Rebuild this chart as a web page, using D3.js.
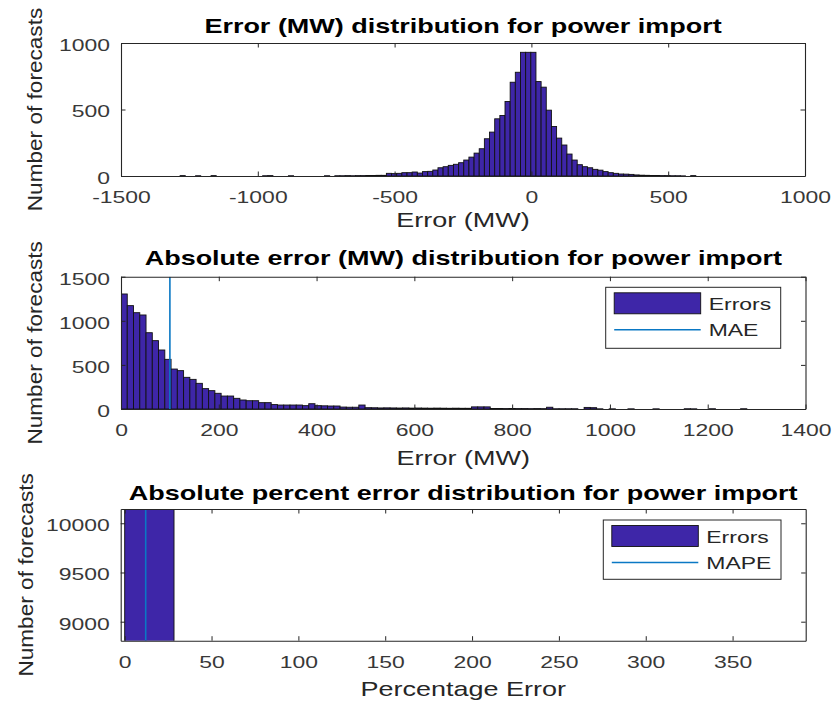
<!DOCTYPE html>
<html>
<head>
<meta charset="utf-8">
<script src="https://cdn.jsdelivr.net/npm/d3@7"></script>
<style>
  body { margin: 0; background: #fff; }
  svg { display: block; }
  text { font-family: "Liberation Sans", Arial, Helvetica, sans-serif; }
</style>
</head>
<body>
<svg id="chart" width="834" height="706"></svg>
<script>
// ---- Signed forecast error (MW), 100 equal-width bins ----
const errorBinStart = -1284;
const errorBinWidth = 18.85;
const errorCounts = [
  3, 0, 0, 2, 0, 0, 3, 0, 0, 0,
  0, 0, 0, 0, 0, 0, 2, 3, 0, 0,
  0, 2, 0, 0, 0, 0, 0, 0, 2, 0,
  2, 2, 3, 2, 3, 3, 4, 4, 5, 5,
  20, 18, 20, 25, 25, 30, 22, 33, 35, 45,
  62, 70, 80, 88, 100, 120, 142, 172, 205, 280,
  330, 430, 455, 560, 705, 780, 930, 930, 930, 710,
  668, 495, 372, 285, 233, 165, 120, 85, 70, 62,
  50, 44, 33, 25, 20, 15, 14, 12, 8, 6,
  5, 4, 4, 3, 3, 2, 2, 1, 0, 3
];
const errorTicks = [-1500, -1000, -500, 0, 500, 1000];
const errorCountTicks = [0, 500, 1000];

// ---- Absolute forecast error (MW), 100 equal-width bins ----
const absBinStart = 0;
const absBinWidth = 12.8;
const absCounts = [
  1304, 1172, 1092, 1066, 865, 775, 669, 563, 453, 435,
  359, 336, 291, 231, 208, 178, 147, 147, 121, 102,
  94, 94, 72, 72, 50, 45, 45, 45, 45, 38,
  60, 38, 36, 34, 34, 22, 20, 20, 45, 15,
  14, 12, 13, 12, 11, 12, 10, 11, 10, 9,
  10, 9, 8, 9, 8, 8, 24, 24, 24, 6,
  6, 5, 6, 5, 5, 4, 5, 4, 20, 3,
  3, 3, 3, 0, 18, 15, 2, 0, 2, 0,
  0, 2, 0, 0, 0, 2, 0, 0, 0, 0,
  3, 2, 0, 0, 3, 0, 0, 0, 0, 3
];
const absTicks = [0, 200, 400, 600, 800, 1000, 1200, 1400];
const absCountTicks = [0, 500, 1000, 1500];
const maeValue = 100;

// ---- Absolute percent error (%), 10 equal-width bins ----
const apeBinStart = 0;
const apeBinWidth = 28.4;
const apeCounts = [11180, 160, 40, 12, 5, 2, 1, 0, 0, 1];
const apeTicks = [0, 50, 100, 150, 200, 250, 300, 350];
const apeCountTicks = [9000, 9500, 10000];
const mapeValue = 12.1;

const titles = [
  "Error (MW) distribution for power import",
  "Absolute error (MW) distribution for power import",
  "Absolute percent error distribution for power import"
];
const xLabels = ["Error (MW)", "Error (MW)", "Percentage Error"];
const yLabel = "Number of forecasts";

// ---- drawing ----
const BAR_FILL = "#3e26a8";
const REF_COLOR = "#0a78c4";
const AXIS_COLOR = "#262626";
const STRETCH = 1.35;

const svg = d3.select("#chart");

function stretchedText(parent, x, y, str, opts = {}) {
  const rot = opts.rotate ? " rotate(-90)" : "";
  const sx = opts.sx || STRETCH, sy = opts.sy || 1;
  return parent.append("text")
    .attr("transform", `translate(${x},${y})${rot} scale(${sx},${sy})`)
    .attr("text-anchor", opts.anchor || "middle")
    .attr("font-size", opts.size || 17)
    .attr("font-weight", opts.bold ? "bold" : "normal")
    .attr("fill", opts.fill || AXIS_COLOR)
    .text(str);
}

// plain integer labels with an ASCII hyphen for negatives
const fmt = d => String(Math.round(d));

function drawPanel(cfg, idx) {
  const b = cfg.box;
  const x = d3.scaleLinear().domain(cfg.xDomain).range([b.left, b.right]);
  const y = d3.scaleLinear().domain(cfg.yDomain).range([b.bottom, b.top]);
  const g = svg.append("g");

  const clipId = "clip" + idx;
  svg.append("clipPath").attr("id", clipId)
    .append("rect")
    .attr("x", b.left).attr("y", b.top)
    .attr("width", b.right - b.left).attr("height", b.bottom - b.top);

  const plot = g.append("g").attr("clip-path", `url(#${clipId})`);

  const bins = cfg.counts.map((c, i) => ({
    x0: cfg.start + i * cfg.width,
    x1: cfg.start + (i + 1) * cfg.width,
    c
  })).filter(d => d.c > 0);

  plot.selectAll("rect.bar").data(bins).join("rect")
    .attr("class", "bar")
    .attr("x", d => x(d.x0))
    .attr("width", d => x(d.x1) - x(d.x0))
    .attr("y", d => y(d.c))
    .attr("height", d => y(0) - y(d.c))
    .attr("fill", BAR_FILL)
    .attr("stroke", "#111")
    .attr("stroke-width", 0.9);

  if (cfg.ref != null) {
    plot.append("line")
      .attr("x1", x(cfg.ref)).attr("x2", x(cfg.ref))
      .attr("y1", b.top).attr("y2", b.bottom)
      .attr("stroke", REF_COLOR).attr("stroke-width", 1.6);
  }

  const tick = 4.5;

  const bottomAxis = g.append("g").attr("transform", `translate(0,${b.bottom})`)
    .call(d3.axisBottom(x).tickValues(cfg.xTicks).tickFormat(fmt)
      .tickSizeInner(-tick).tickSizeOuter(0));
  const topAxis = g.append("g").attr("transform", `translate(0,${b.top})`)
    .call(d3.axisTop(x).tickValues(cfg.xTicks).tickFormat("")
      .tickSizeInner(-tick).tickSizeOuter(0));
  const leftAxis = g.append("g").attr("transform", `translate(${b.left},0)`)
    .call(d3.axisLeft(y).tickValues(cfg.yTicks).tickFormat(fmt)
      .tickSizeInner(-tick).tickSizeOuter(0));
  const rightAxis = g.append("g").attr("transform", `translate(${b.right},0)`)
    .call(d3.axisRight(y).tickValues(cfg.yTicks).tickFormat("")
      .tickSizeInner(-tick).tickSizeOuter(0));

  [bottomAxis, topAxis, leftAxis, rightAxis].forEach(a => {
    a.attr("font-family", null).attr("font-size", 17);
    a.select(".domain").attr("stroke", AXIS_COLOR).attr("stroke-width", 1.1);
    a.selectAll(".tick line").attr("stroke", AXIS_COLOR).attr("stroke-width", 1);
  });

  bottomAxis.selectAll(".tick text")
    .attr("y", 27.5).attr("dy", null)
    .attr("fill", "#383838")
    .attr("transform", `scale(${STRETCH},1)`);
  leftAxis.selectAll(".tick text")
    .attr("x", -11 / STRETCH).attr("y", 1.5).attr("dy", "0.35em")
    .attr("fill", "#383838")
    .attr("transform", `scale(${STRETCH},1)`);

  const cx = (b.left + b.right) / 2;
  stretchedText(g, cx, cfg.titleY, titles[idx], { size: 20, bold: true, fill: "#000" });
  stretchedText(g, cx, cfg.xLabelY, xLabels[idx], { size: 20 });
  stretchedText(g, cfg.yLabelX, (b.top + b.bottom) / 2, yLabel,
    { size: 19, rotate: true, sx: 1.19, sy: 1.1 });

  if (cfg.legend) {
    const L = cfg.legend;
    const lg = g.append("g");
    lg.append("rect")
      .attr("x", L.x).attr("y", L.y).attr("width", L.w).attr("height", L.h)
      .attr("fill", "#fff").attr("stroke", AXIS_COLOR).attr("stroke-width", 1);
    lg.append("rect")
      .attr("x", L.x + 8.5).attr("y", L.y + 5.5).attr("width", 86.5).attr("height", 21)
      .attr("fill", BAR_FILL).attr("stroke", "#111").attr("stroke-width", 0.9);
    lg.append("line")
      .attr("x1", L.x + 8.5).attr("x2", L.x + 95)
      .attr("y1", L.y + 42.5).attr("y2", L.y + 42.5)
      .attr("stroke", REF_COLOR).attr("stroke-width", 1.6);
    stretchedText(lg, L.x + 103, L.y + 22.5, "Errors", { anchor: "start", size: 17 });
    stretchedText(lg, L.x + 103, L.y + 48.5, L.label, { anchor: "start", size: 17 });
  }
}

const panels = [
  {
    box: { left: 121, right: 805, top: 43, bottom: 176 },
    xDomain: [-1500, 1000], yDomain: [0, 1000],
    xTicks: errorTicks, yTicks: errorCountTicks,
    start: errorBinStart, width: errorBinWidth, counts: errorCounts,
    ref: null, titleY: 33, xLabelY: 227, yLabelX: 41.5
  },
  {
    box: { left: 121, right: 805.5, top: 276.7, bottom: 409 },
    xDomain: [0, 1400], yDomain: [0, 1500],
    xTicks: absTicks, yTicks: absCountTicks,
    start: absBinStart, width: absBinWidth, counts: absCounts,
    ref: maeValue, titleY: 265, xLabelY: 465, yLabelX: 41.5,
    legend: { x: 605.7, y: 287.3, w: 175, h: 61, label: "MAE" }
  },
  {
    box: { left: 120.7, right: 805.7, top: 509, bottom: 640.7 },
    xDomain: [-2.3, 392.1], yDomain: [8807, 10145],
    xTicks: apeTicks, yTicks: apeCountTicks,
    start: apeBinStart, width: apeBinWidth, counts: apeCounts,
    ref: mapeValue, titleY: 500, xLabelY: 696, yLabelX: 33.3,
    legend: { x: 603.3, y: 520, w: 177.7, h: 59.3, label: "MAPE" }
  }
];

panels.forEach(drawPanel);
</script>
</body>
</html>
